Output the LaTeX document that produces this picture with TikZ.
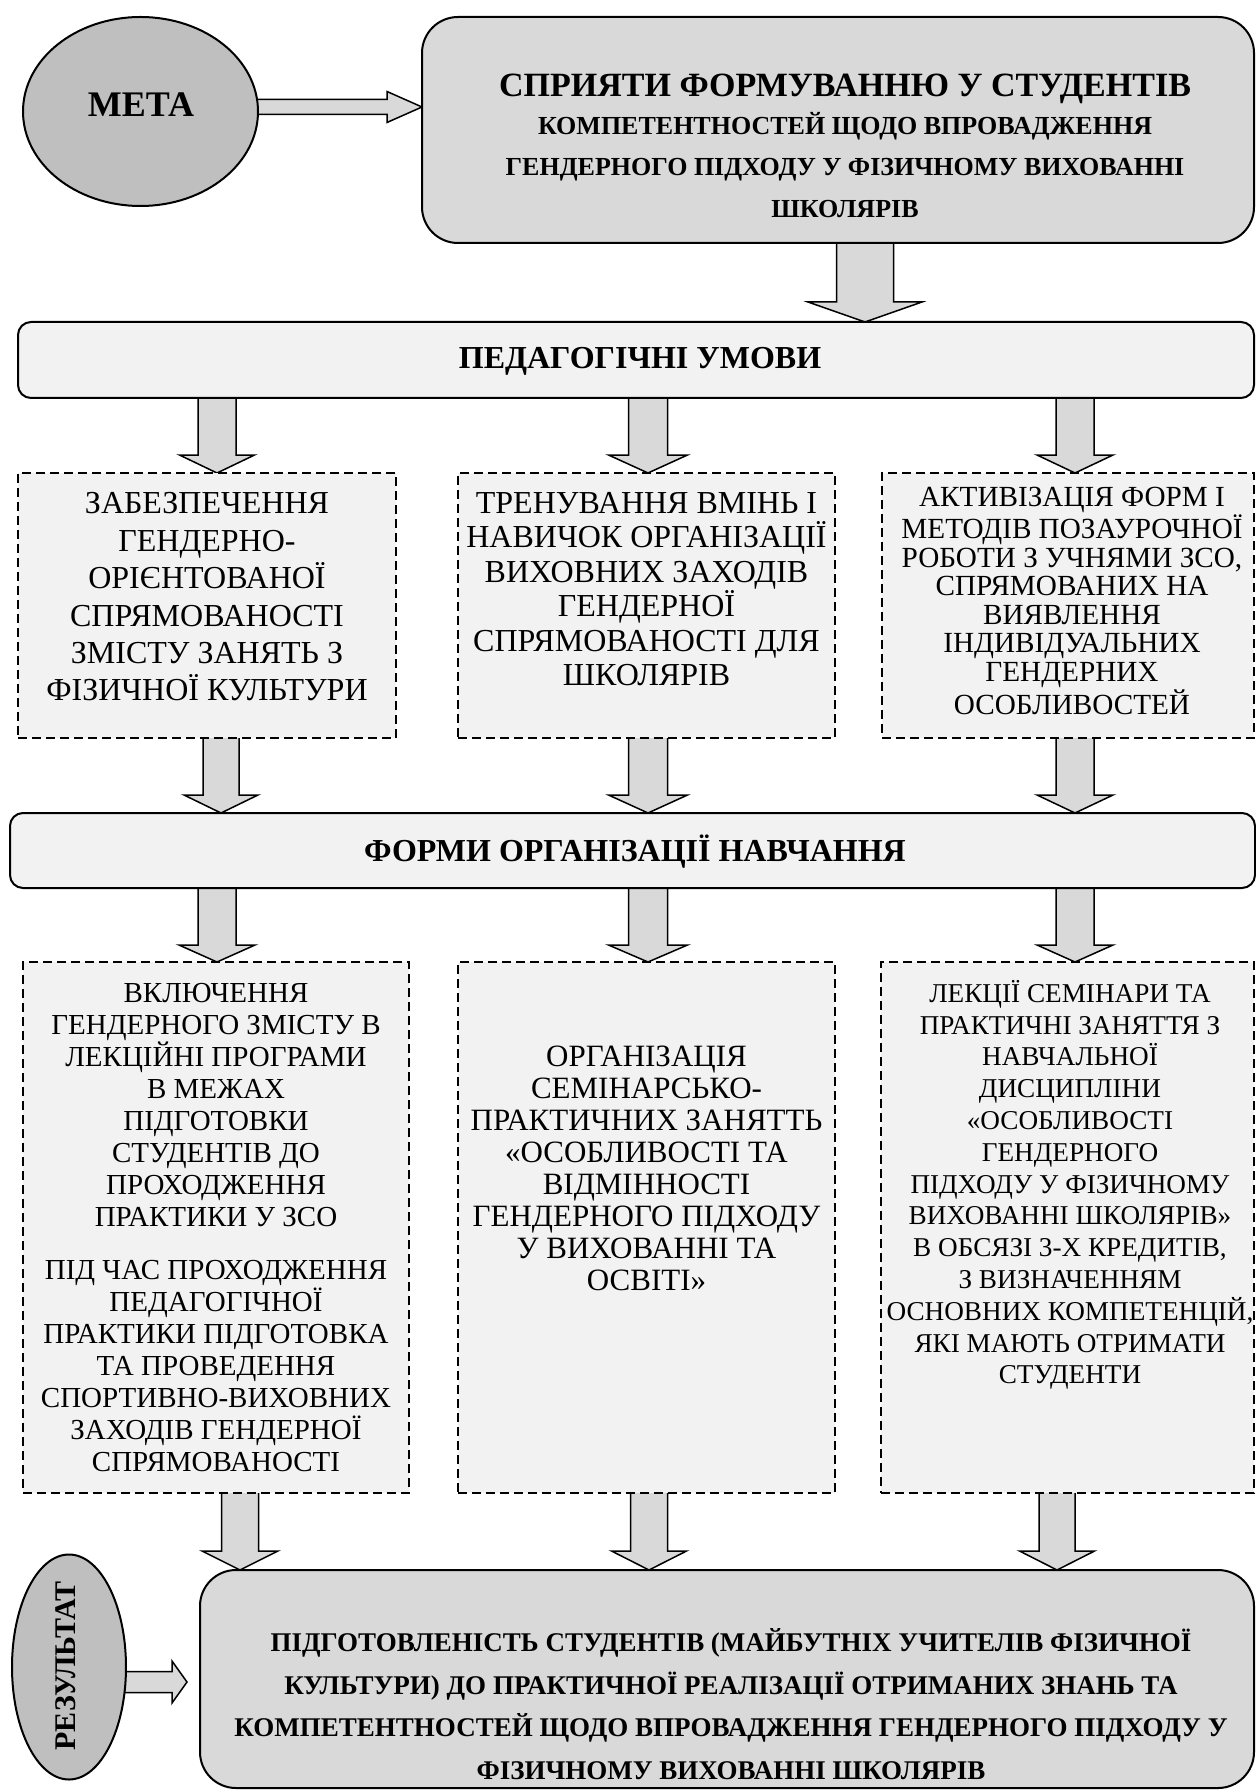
\documentclass[tikz,border=0pt]{standalone}
\usepackage{fontspec}
\setmainfont{Liberation Serif}
\usetikzlibrary{shapes.geometric,calc,backgrounds}

\definecolor{ovalgray}{HTML}{BFBFBF}
\definecolor{panelgray}{HTML}{D9D9D9}
\definecolor{boxlight}{HTML}{F2F2F2}
\definecolor{arrowgray}{HTML}{D9D9D9}

\newcommand{\fsz}[2]{\fontsize{#1}{#2}\selectfont}

% downward block arrow: source, target, x (px), shaft half-width, head half-width, head height
\newcommand{\downblock}[6]{%
  \draw[blockarrow] let \p1=(#1.south), \p2=(#2.north) in
    ({(#3-#4)*0.5pt},{\y1+1pt}) -- ({(#3+#4)*0.5pt},{\y1+1pt})
    -- ({(#3+#4)*0.5pt},{\y2+#6*0.5pt}) -- ({(#3+#5)*0.5pt},{\y2+#6*0.5pt})
    -- ({#3*0.5pt},\y2)
    -- ({(#3-#5)*0.5pt},{\y2+#6*0.5pt}) -- ({(#3-#4)*0.5pt},{\y2+#6*0.5pt}) -- cycle;}

% rightward block arrow: source, target, y (px), shaft half-height, head half-height, head length, gap before target
\newcommand{\rightblock}[7]{%
  \draw[blockarrow] let \p1=(#1.east), \p2=(#2.west) in
    ({\x1-2pt},{-(#3-#4)*0.5pt}) -- ({\x2-(#6+#7)*0.5pt},{-(#3-#4)*0.5pt})
    -- ({\x2-(#6+#7)*0.5pt},{-(#3-#5)*0.5pt}) -- ({\x2-#7*0.5pt},{-#3*0.5pt})
    -- ({\x2-(#6+#7)*0.5pt},{-(#3+#5)*0.5pt}) -- ({\x2-(#6+#7)*0.5pt},{-(#3+#4)*0.5pt})
    -- ({\x1-2pt},{-(#3+#4)*0.5pt}) -- cycle;}

\begin{document}
\begin{tikzpicture}[x=0.5pt,y=-0.5pt,
  every node/.style={inner sep=0pt,outer sep=0pt},
  oval/.style={ellipse,draw,line width=1pt,fill=ovalgray},
  bigpanel/.style={draw,line width=1pt,fill=panelgray,rounded corners=18pt,anchor=north west},
  band/.style={draw,line width=1pt,fill=boxlight,rounded corners=6.5pt,anchor=north west},
  dashbox/.style={draw,line width=0.7pt,dash pattern=on 4.5pt off 2.5pt,fill=boxlight,anchor=north west},
  blockarrow/.style={draw,line width=0.75pt,fill=arrowgray,line join=miter},
  txt/.style={align=center,text=black}]

\useasboundingbox (0,0) rectangle (1256,1791);

% goal
\node[oval,minimum width=117.5pt,minimum height=94.5pt] (meta) at (140.5,111.5) {};
\node[txt,font=\bfseries\fsz{18}{20}] (metat) at (141,105) {МЕТА};
\node[bigpanel,minimum width=416pt,minimum height=113pt] (goal) at (422,17) {};
\node[txt,font=\bfseries\fsz{17}{20}] (goalA) at (845,89) {СПРИЯТИ ФОРМУВАННЮ У СТУДЕНТІВ};
\node[txt,font=\bfseries\fsz{13}{20.75}] (goalB) at (845,165)
  {КОМПЕТЕНТНОСТЕЙ ЩОДО ВПРОВАДЖЕННЯ\\ГЕНДЕРНОГО ПІДХОДУ У ФІЗИЧНОМУ ВИХОВАННІ\\ШКОЛЯРІВ};

% pedagogical conditions
\node[band,minimum width=618pt,minimum height=38pt] (cond) at (18,322) {};
\node[txt,font=\bfseries\fsz{16}{18}] (condt) at (640,361) {ПЕДАГОГІЧНІ УМОВИ};

\node[dashbox,minimum width=189pt,minimum height=132.5pt] (c1) at (18,473) {};
\node[dashbox,minimum width=188.5pt,minimum height=132.5pt] (c2) at (458,473) {};
\node[dashbox,minimum width=186pt,minimum height=132.5pt] (c3) at (882,473) {};
\node[txt,font=\fsz{16}{18.7}] (c1t) at (207,597)
  {ЗАБЕЗПЕЧЕННЯ\\ГЕНДЕРНО-\\ОРІЄНТОВАНОЇ\\СПРЯМОВАНОСТІ\\ЗМІСТУ ЗАНЯТЬ З\\ФІЗИЧНОЇ КУЛЬТУРИ};
\node[txt,font=\fsz{16}{17.2}] (c2t) at (646.5,589)
  {ТРЕНУВАННЯ ВМІНЬ І\\НАВИЧОК ОРГАНІЗАЦІЇ\\ВИХОВНИХ ЗАХОДІВ\\ГЕНДЕРНОЇ\\СПРЯМОВАНОСТІ ДЛЯ\\ШКОЛЯРІВ};
\node[txt,font=\fsz{14.6}{14.3}] (c3t) at (1072,601)
  {АКТИВІЗАЦІЯ ФОРМ І\\МЕТОДІВ ПОЗАУРОЧНОЇ\\РОБОТИ З УЧНЯМИ ЗСО,\\СПРЯМОВАНИХ НА\\ВИЯВЛЕННЯ\\ІНДИВІДУАЛЬНИХ\\ГЕНДЕРНИХ\\ОСОБЛИВОСТЕЙ};

% forms of organisation
\node[band,minimum width=622.5pt,minimum height=37.5pt] (forms) at (10,813) {};
\node[txt,font=\bfseries\fsz{16}{18}] (formst) at (635,852) {ФОРМИ ОРГАНІЗАЦІЇ НАВЧАННЯ};

\node[dashbox,minimum width=193pt,minimum height=265.5pt] (f1) at (23,962) {};
\node[dashbox,minimum width=188.5pt,minimum height=265.5pt] (f2) at (458,962) {};
\node[dashbox,minimum width=186.5pt,minimum height=265.5pt] (f3) at (881,962) {};
\node[txt,font=\fsz{14.5}{16}] (f1t) at (216,1228)
  {ВКЛЮЧЕННЯ\\ГЕНДЕРНОГО ЗМІСТУ В\\ЛЕКЦІЙНІ ПРОГРАМИ\\В МЕЖАХ\\ПІДГОТОВКИ\\СТУДЕНТІВ ДО\\ПРОХОДЖЕННЯ\\ПРАКТИКИ У ЗСО\\[10.5pt]ПІД ЧАС ПРОХОДЖЕННЯ\\ПЕДАГОГІЧНОЇ\\ПРАКТИКИ ПІДГОТОВКА\\ТА ПРОВЕДЕННЯ\\СПОРТИВНО-ВИХОВНИХ\\ЗАХОДІВ ГЕНДЕРНОЇ\\СПРЯМОВАНОСТІ};
\node[txt,font=\fsz{15.5}{16}] (f2t) at (646.5,1168)
  {ОРГАНІЗАЦІЯ\\СЕМІНАРСЬКО-\\ПРАКТИЧНИХ ЗАНЯТТЬ\\«ОСОБЛИВОСТІ ТА\\ВІДМІННОСТІ\\ГЕНДЕРНОГО ПІДХОДУ\\У ВИХОВАННІ ТА\\ОСВІТІ»};
\node[txt,font=\fsz{13.6}{15.9}] (f3t) at (1070,1185)
  {ЛЕКЦІЇ СЕМІНАРИ ТА\\ПРАКТИЧНІ ЗАНЯТТЯ З\\НАВЧАЛЬНОЇ\\ДИСЦИПЛІНИ\\«ОСОБЛИВОСТІ\\ГЕНДЕРНОГО\\ПІДХОДУ У ФІЗИЧНОМУ\\ВИХОВАННІ ШКОЛЯРІВ»\\В ОБСЯЗІ 3-Х КРЕДИТІВ,\\З ВИЗНАЧЕННЯМ\\ОСНОВНИХ КОМПЕТЕНЦІЙ,\\ЯКІ МАЮТЬ ОТРИМАТИ\\СТУДЕНТИ};

% result
\node[oval,minimum width=57pt,minimum height=112.5pt] (res) at (69,1667) {};
\node[txt,font=\bfseries\fsz{15}{17},rotate=90] (rest) at (66,1666) {РЕЗУЛЬТАТ};
\node[bigpanel,rounded corners=18pt,minimum width=527pt,minimum height=109pt] (result) at (200,1570) {};
\node[txt,font=\bfseries\fsz{13.5}{21.3}] (resultt) at (731,1704)
  {ПІДГОТОВЛЕНІСТЬ СТУДЕНТІВ (МАЙБУТНІХ УЧИТЕЛІВ ФІЗИЧНОЇ\\КУЛЬТУРИ) ДО ПРАКТИЧНОЇ РЕАЛІЗАЦІЇ ОТРИМАНИХ ЗНАНЬ ТА\\КОМПЕТЕНТНОСТЕЙ ЩОДО ВПРОВАДЖЕННЯ ГЕНДЕРНОГО ПІДХОДУ У\\ФІЗИЧНОМУ ВИХОВАННІ ШКОЛЯРІВ};

% connectors
\begin{scope}[on background layer]
  \rightblock{meta}{goal}{107}{7.5}{15.5}{35}{0}
  \downblock{goal}{cond}{865}{28.5}{57}{20}
  \downblock{cond}{c1}{217}{19}{37.5}{18}
  \downblock{cond}{c2}{648}{19.5}{39.5}{18}
  \downblock{cond}{c3}{1075}{19}{38}{18}
  \downblock{c1}{forms}{221}{18}{37}{18}
  \downblock{c2}{forms}{648}{19.5}{39.5}{18}
  \downblock{c3}{forms}{1075}{19}{38}{18}
  \downblock{forms}{f1}{217}{19}{38}{17}
  \downblock{forms}{f2}{648}{19.5}{39.5}{17}
  \downblock{forms}{f3}{1075}{19}{38}{17}
  \downblock{f1}{result}{240}{18.5}{38}{19}
  \downblock{f2}{result}{649}{18.5}{37.5}{19}
  \downblock{f3}{result}{1057}{18}{37.5}{19}
  \rightblock{res}{result}{1682}{10.5}{21}{15}{13}
\end{scope}
\end{tikzpicture}
\end{document}
